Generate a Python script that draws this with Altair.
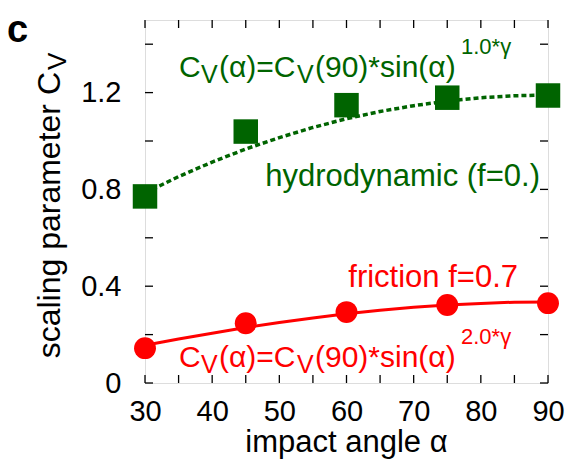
import altair as alt
import pandas as pd

# Measured scaling parameter C_V at each impact angle
angles = [30, 45, 60, 75, 90]
cv_hydro = [0.771, 1.039, 1.148, 1.179, 1.188]
cv_friction = [0.144, 0.247, 0.293, 0.322, 0.330]

# Fitted curves C_V(alpha) = C_V(90) * sin(alpha)^(k*gamma), sampled every 5 degrees
fit_angles = [30, 35, 40, 45, 50, 55, 60, 65, 70, 75, 80, 85, 90]
fit_hydro = [0.785, 0.853, 0.913, 0.967, 1.014, 1.056, 1.092, 1.122, 1.146, 1.165, 1.179, 1.187, 1.190]
fit_friction = [0.156, 0.182, 0.206, 0.229, 0.250, 0.269, 0.286, 0.301, 0.313, 0.322, 0.329, 0.334, 0.335]

# Axis ticks
x_ticks = [30, 35, 40, 45, 50, 55, 60, 65, 70, 75, 80, 85, 90]
x_labels = [30, 40, 50, 60, 70, 80, 90]
y_ticks = [0, 0.2, 0.4, 0.6, 0.8, 1.0, 1.2, 1.4]
y_labels = [0, 0.4, 0.8, 1.2]

GREEN = "#006400"
RED = "#ff0000"
FONT = "Liberation Sans"
W, H = 403, 363
TICK = 8

x_scale = alt.Scale(domain=[30, 90], nice=False, zero=False)
y_scale = alt.Scale(domain=[0, 1.5], nice=False)

pts = pd.DataFrame({"angle": angles, "hydro": cv_hydro, "friction": cv_friction})
fit = pd.DataFrame({"angle": fit_angles, "hydro": fit_hydro, "friction": fit_friction})
xt = pd.DataFrame({"v": x_ticks})
yt = pd.DataFrame({"v": y_ticks})
one = pd.DataFrame({"k": [0]})

X = alt.X("angle:Q", scale=x_scale,
          axis=alt.Axis(values=x_labels, title=None, domain=False, ticks=False, grid=False,
                        labelFlush=False, labelFontSize=29, labelFont=FONT, labelColor="black",
                        labelPadding=14))
Y_AXIS = alt.Axis(values=y_labels, title=None, domain=False, ticks=False, grid=False,
                  labelFlush=False, labelFontSize=29, labelFont=FONT, labelColor="black",
                  labelPadding=24,
                  labelExpr="datum.value == 0 ? '0' : format(datum.value, '.1f')")

hydro_line = alt.Chart(fit).mark_line(color=GREEN, strokeWidth=3.5, strokeDash=[5, 3]).encode(
    x=X, y=alt.Y("hydro:Q", scale=y_scale, axis=Y_AXIS))
fric_line = alt.Chart(fit).mark_line(color=RED, strokeWidth=3).encode(
    x=alt.X("angle:Q", scale=x_scale), y=alt.Y("friction:Q", scale=y_scale))
hydro_pts = alt.Chart(pts).mark_point(shape="square", filled=True, opacity=1, color=GREEN, size=600).encode(
    x=alt.X("angle:Q", scale=x_scale), y=alt.Y("hydro:Q", scale=y_scale))
fric_pts = alt.Chart(pts).mark_point(shape="circle", filled=True, opacity=1, color=RED, size=480).encode(
    x=alt.X("angle:Q", scale=x_scale), y=alt.Y("friction:Q", scale=y_scale))

# Inward ticks on all four sides
tick_style = dict(color="black", strokeWidth=1.3)
ticks = [
    alt.Chart(xt).mark_rule(**tick_style).encode(x=alt.X("v:Q", scale=x_scale), y=alt.value(H), y2=alt.value(H - TICK)),
    alt.Chart(xt).mark_rule(**tick_style).encode(x=alt.X("v:Q", scale=x_scale), y=alt.value(0), y2=alt.value(TICK)),
    alt.Chart(yt).mark_rule(**tick_style).encode(y=alt.Y("v:Q", scale=y_scale), x=alt.value(0), x2=alt.value(TICK)),
    alt.Chart(yt).mark_rule(**tick_style).encode(y=alt.Y("v:Q", scale=y_scale), x=alt.value(W), x2=alt.value(W - TICK)),
]


def label(text, px, py, size, color="black", align="left", angle=0, weight="normal"):
    return alt.Chart(one).mark_text(
        text=text, font=FONT, fontSize=size, color=color, align=align,
        baseline="alphabetic", angle=angle, fontWeight=weight,
    ).encode(x=alt.value(px), y=alt.value(py))


def formula(color, base, sup):
    # C_V(alpha)=C_V(90)*sin(alpha)^{sup}
    return [
        label("C", 34, base, 30, color),
        label("V", 56, base + 6, 25, color),
        label("(α)=C", 74, base, 30, color),
        label("V", 152, base + 6, 25, color),
        label("(90)*sin(α)", 170, base, 30, color),
        label(sup, 316, base - 23, 22, color),
    ]


texts = (
    formula(GREEN, 57, "1.0*γ")
    + formula(RED, 347, "2.0*γ")
    + [
        label("hydrodynamic (f=0.)", 395, 166, 31, GREEN, align="right"),
        label("friction f=0.7", 373, 267, 31, RED, align="right"),
        label("impact angle α", W / 2, 432, 31, align="center"),
        label("scaling parameter C", -85, 52, 32, align="right", angle=270),
        label("V", -79, 50, 26, align="left", angle=270),
        label("c", -138, 22, 38, weight="bold"),
    ]
)

chart = alt.layer(hydro_line, fric_line, *ticks, hydro_pts, fric_pts, *texts).properties(
    width=W, height=H,
    autosize=alt.AutoSizeParams(type="none"),
    padding={"left": 145, "top": 20, "right": 22, "bottom": 80},
).configure_view(stroke="black", strokeWidth=1.5).configure(background="white")

chart.save("out.html", embed_options={"renderer": "svg", "actions": False})
